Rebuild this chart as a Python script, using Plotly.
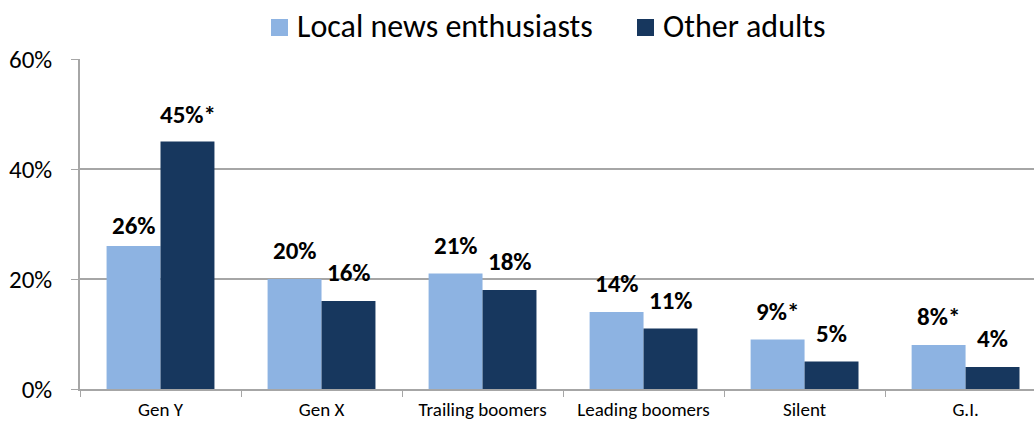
import plotly.graph_objects as go

# Age-generation breakdown of local news enthusiasts vs. other adults
generations = ["Gen Y", "Gen X", "Trailing boomers", "Leading boomers", "Silent", "G.I."]
enthusiasts = [26, 20, 21, 14, 9, 8]
other_adults = [45, 16, 18, 11, 5, 4]
# statistically significant differences are flagged with an asterisk
enthusiasts_flag = [False, False, False, False, True, True]
other_flag = [True, False, False, False, False, False]
# vertical offset (px) of each value label above its bar
enthusiasts_lift = [3, 11, 11, 11, 11, 11]
other_lift = [10, 11, 11, 11, 11, 11]

series_names = ["Local news enthusiasts", "Other adults"]
LIGHT = "#8DB3E2"
DARK = "#17375E"
GRID = "#A6A6A6"
FONT = "Carlito, Calibri, Lato, sans-serif"

W, H = 1034, 424
ML, MR, MT, MB = 80, 0, 59, 35
plot_w = W - ML - MR
plot_h = H - MT - MB

fig = go.Figure()
fig.add_trace(go.Bar(x=generations, y=enthusiasts, name=series_names[0],
                     marker=dict(color=LIGHT, line=dict(width=0)), showlegend=False))
fig.add_trace(go.Bar(x=generations, y=other_adults, name=series_names[1],
                     marker=dict(color=DARK, line=dict(width=0)), showlegend=False))

half_bar = 27  # px offset of each bar centre from the category centre
annotations = []
for g, v, f, lift in zip(generations, enthusiasts, enthusiasts_flag, enthusiasts_lift):
    annotations.append(dict(x=g, y=v, xref="x", yref="y", xshift=-half_bar, yshift=lift,
                            text=f"<b>{v}%{'*' if f else ''}</b>", showarrow=False,
                            yanchor="bottom", xanchor="center",
                            font=dict(family=FONT, size=25, color="black")))
for g, v, f, lift in zip(generations, other_adults, other_flag, other_lift):
    annotations.append(dict(x=g, y=v, xref="x", yref="y", xshift=half_bar, yshift=lift,
                            text=f"<b>{v}%{'*' if f else ''}</b>", showarrow=False,
                            yanchor="bottom", xanchor="center",
                            font=dict(family=FONT, size=25, color="black")))

# legend drawn as swatches + labels above the plot area
def px_x(px):
    return (px - ML) / plot_w

def px_y(py):
    return (H - MB - py) / plot_h

legend_items = [(series_names[0], LIGHT, 271), (series_names[1], DARK, 637)]
shapes = []
for name, color, sx in legend_items:
    shapes.append(dict(type="rect", xref="paper", yref="paper",
                       x0=px_x(sx), x1=px_x(sx + 17), y0=px_y(36), y1=px_y(19),
                       fillcolor=color, line=dict(width=0)))
    annotations.append(dict(x=px_x(sx + 24), y=px_y(26.5), xref="paper", yref="paper",
                            text=name, showarrow=False, xanchor="left", yanchor="middle",
                            font=dict(family=FONT, size=32, color="black")))

fig.update_layout(
    width=W, height=H,
    margin=dict(l=ML, r=MR, t=MT, b=MB, pad=0, autoexpand=False),
    paper_bgcolor="white", plot_bgcolor="white",
    barmode="group", bargap=0.33, bargroupgap=0,
    annotations=annotations, shapes=shapes,
    font=dict(family=FONT, color="black"),
)
fig.update_xaxes(
    type="category", categoryorder="array", categoryarray=generations,
    range=[-0.5, 5.425], tickson="boundaries", ticks="outside", ticklen=6,
    tickcolor=GRID, showline=True, linecolor=GRID, linewidth=1.5,
    showgrid=False, tickfont=dict(family=FONT, size=19, color="black"),
    ticklabelstandoff=2, automargin=False,
)
fig.update_yaxes(
    range=[0, 60], dtick=20, ticksuffix="%", ticks="outside", ticklen=7,
    tickcolor=GRID, showline=True, linecolor=GRID, linewidth=1.5,
    showgrid=True, gridcolor=GRID, gridwidth=1.5, zeroline=False,
    tickfont=dict(family=FONT, size=25, color="black"), ticklabelstandoff=14,
    automargin=False,
)

fig.write_html("out.html")
